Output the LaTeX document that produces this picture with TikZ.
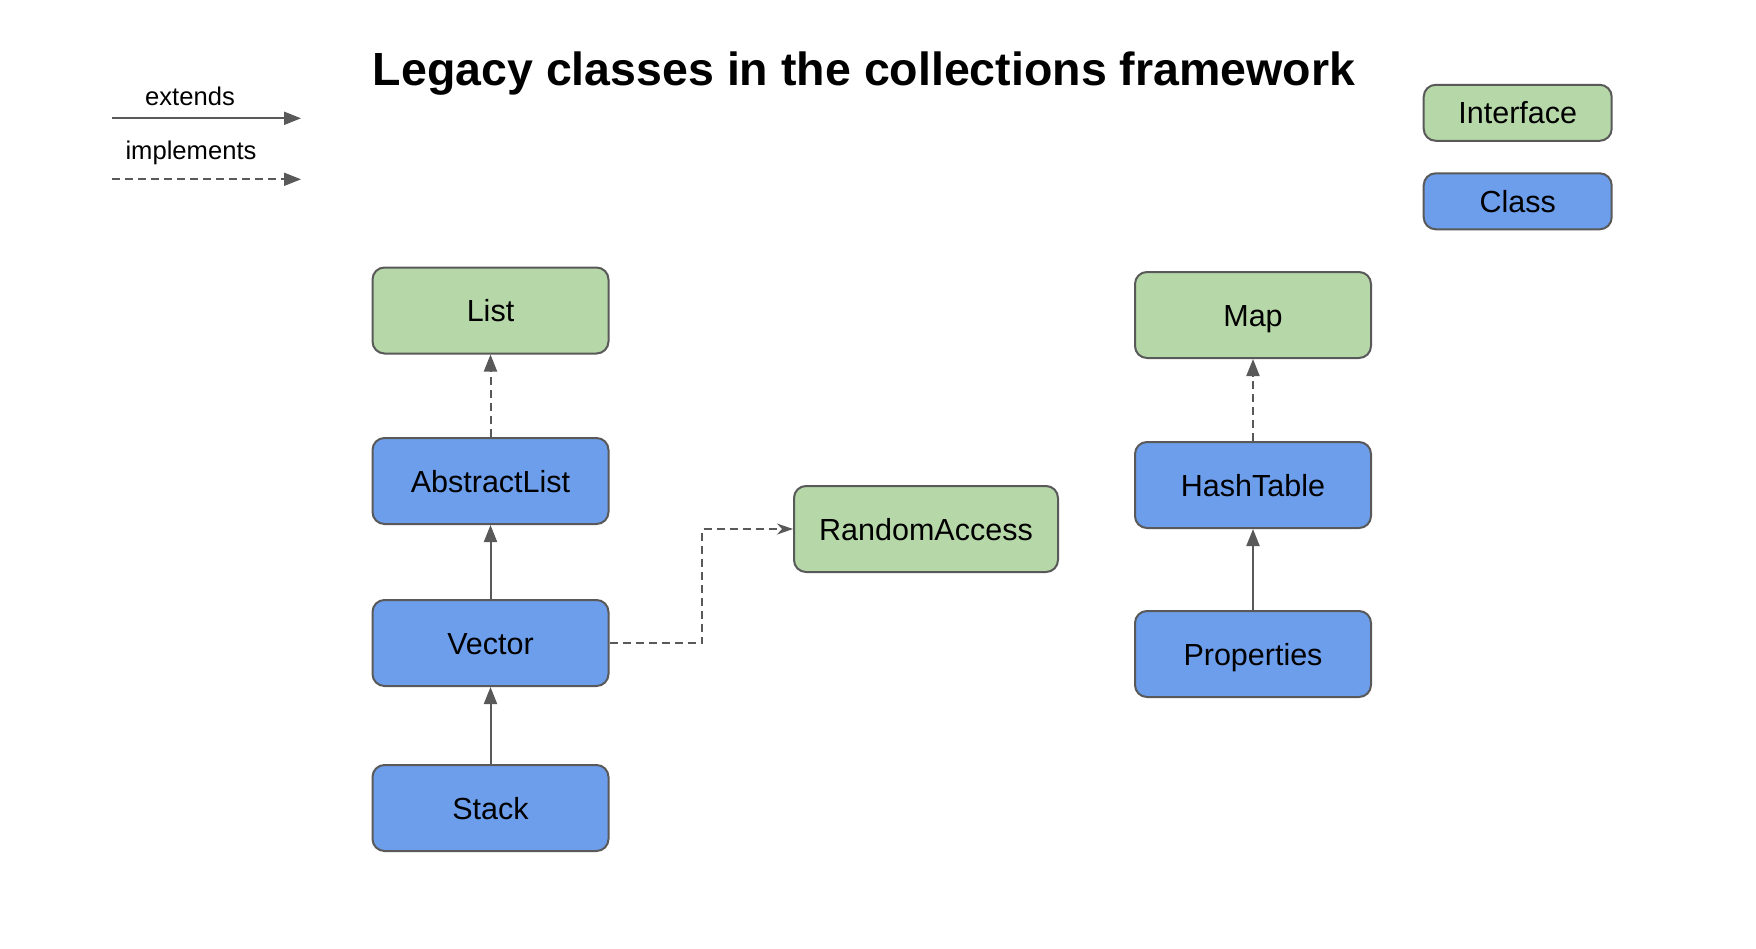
\documentclass[tikz,border=0pt]{standalone}
\usepackage{xcolor}
\usepackage{fontspec}
\setmainfont{Liberation Sans}
\usepackage{tikz}
\usetikzlibrary{arrows.meta}

\definecolor{ifacegreen}{HTML}{B6D7A8}
\definecolor{classblue}{HTML}{6D9EEB}
\definecolor{edgegray}{HTML}{595959}

\begin{document}
\begin{tikzpicture}[x=1pt,y=-1pt,
    umlbox/.style={draw=edgegray, line width=2pt, rounded corners=12pt,
        minimum width=236pt, minimum height=86pt, inner sep=0pt,
        text height=22pt, text depth=0pt,
        font=\fontsize{30.5}{36}\selectfont},
    iface/.style={umlbox, fill=ifacegreen},
    cls/.style={umlbox, fill=classblue},
    keybox/.style={minimum width=188pt, minimum height=56pt},
    extendsline/.style={draw=edgegray, line width=2pt,
        -{Triangle[length=17pt,width=13pt]}},
    implline/.style={extendsline, dash pattern=on 8pt off 5pt},
    keytext/.style={anchor=base, font=\fontsize{25.6}{30}\selectfont}]
             \useasboundingbox (0,0) rectangle (1756,948);

             \node[anchor=base, font=\fontsize{46.5}{56}\selectfont\bfseries] (title) at (864, 85) {Legacy classes in the collections framework};

             \node[keytext] (extendstxt) at (190, 105) {extends};
             \node[keytext] (impltxt) at (191, 159) {implements};
             \coordinate (extA) at (112, 118.3);
             \coordinate (extB) at (301, 118.3);
             \coordinate (implA) at (112, 179.3);
             \coordinate (implB) at (301, 179.3);
             \draw[extendsline] (extA) -- (extB);
             \draw[implline] (implA) -- (implB);

             \node[iface, keybox] (keyiface) at (1517.7, 112.8) {Interface};
             \node[cls, keybox] (keycls) at (1517.7, 201.3) {Class};

             \node[iface] (List) at (490.5, 310.5) {List};
             \node[cls] (AbstractList) at (490.5, 481) {AbstractList};
             \node[cls] (Vector) at (490.5, 643) {Vector};
             \node[cls] (Stack) at (490.5, 808) {Stack};
             \node[iface, minimum width=264pt] (RandomAccess) at (926, 529) {RandomAccess};

             \node[iface] (Map) at (1253, 315) {Map};
             \node[cls] (HashTable) at (1253, 485) {HashTable};
             \node[cls] (Properties) at (1253, 654) {Properties};

             \draw[implline] (AbstractList.north) -- (List.south);
             \draw[extendsline] (Vector.north) -- (AbstractList.south);
             \draw[extendsline] (Stack.north) -- (Vector.south);
             \draw[implline] (HashTable.north) -- (Map.south);
             \draw[extendsline] (Properties.north) -- (HashTable.south);

             \coordinate (bend) at (702, 0);
             \draw[implline, -{Stealth[length=16pt,width=11pt,inset=5pt]}]
                 (Vector.east) -- (Vector.east -| bend) |- (RandomAccess.west);
\end{tikzpicture}
\end{document}
